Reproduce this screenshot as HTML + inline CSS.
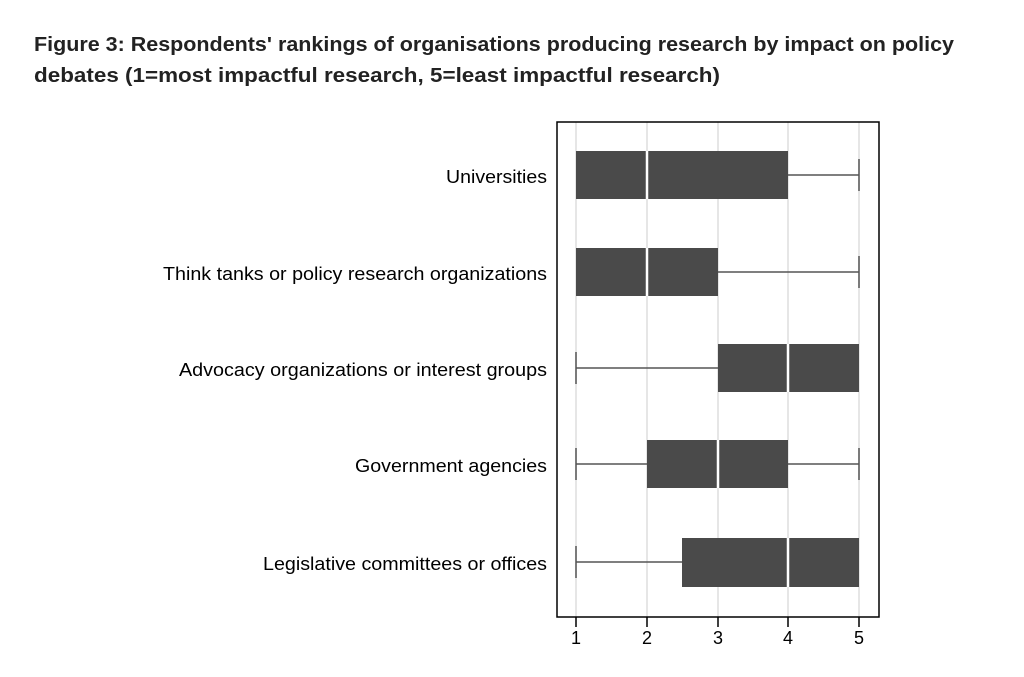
<!DOCTYPE html><html><head><style>body{margin:0;background:#fff;width:1024px;height:672px;overflow:hidden}</style></head><body>
<svg width="1024" height="672" xmlns="http://www.w3.org/2000/svg" font-family="Liberation Sans, sans-serif">
<text x="34" y="51" font-size="20" font-weight="bold" fill="#222" textLength="920" lengthAdjust="spacingAndGlyphs">Figure 3: Respondents' rankings of organisations producing research by impact on policy</text>
<text x="34" y="82" font-size="20" font-weight="bold" fill="#222" textLength="686" lengthAdjust="spacingAndGlyphs">debates (1=most impactful research, 5=least impactful research)</text>
<g stroke="#ddd" stroke-width="1.5">
<line x1="576" y1="122" x2="576" y2="617"/><line x1="647" y1="122" x2="647" y2="617"/><line x1="718" y1="122" x2="718" y2="617"/><line x1="788" y1="122" x2="788" y2="617"/><line x1="859" y1="122" x2="859" y2="617"/>
</g>
<rect x="557" y="122" width="322" height="495" fill="none" stroke="#000" stroke-width="1.5"/>
<g fill="#4a4a4a">
<rect x="576" y="151" width="212" height="48"/>
<rect x="576" y="248" width="142" height="48"/>
<rect x="718" y="344" width="141" height="48"/>
<rect x="647" y="440" width="141" height="48"/>
<rect x="682" y="538" width="177" height="49"/>
</g>
<g stroke="#fff" stroke-width="2.5">
<line x1="647" y1="151" x2="647" y2="199"/><line x1="647" y1="248" x2="647" y2="296"/><line x1="788" y1="344" x2="788" y2="392"/><line x1="718" y1="440" x2="718" y2="488"/><line x1="788" y1="538" x2="788" y2="587"/>
</g>
<g stroke="#555" stroke-width="1.5">
<line x1="788" y1="175" x2="859" y2="175"/><line x1="859" y1="159" x2="859" y2="191"/>
<line x1="718" y1="272" x2="859" y2="272"/><line x1="859" y1="256" x2="859" y2="288"/>
<line x1="576" y1="368" x2="718" y2="368"/><line x1="576" y1="352" x2="576" y2="384"/>
<line x1="576" y1="464" x2="647" y2="464"/><line x1="576" y1="448" x2="576" y2="480"/>
<line x1="788" y1="464" x2="859" y2="464"/><line x1="859" y1="448" x2="859" y2="480"/>
<line x1="576" y1="562" x2="682" y2="562"/><line x1="576" y1="546" x2="576" y2="578"/>
</g>
<g stroke="#000" stroke-width="1.5">
<line x1="576" y1="617" x2="576" y2="627"/><line x1="647" y1="617" x2="647" y2="627"/><line x1="718" y1="617" x2="718" y2="627"/><line x1="788" y1="617" x2="788" y2="627"/><line x1="859" y1="617" x2="859" y2="627"/>
</g>
<g font-size="18" text-anchor="middle" fill="#000">
<text x="576" y="644">1</text><text x="647" y="644">2</text><text x="718" y="644">3</text><text x="788" y="644">4</text><text x="859" y="644">5</text>
</g>
<g font-size="18" text-anchor="end" fill="#000" lengthAdjust="spacingAndGlyphs">
<text x="547" y="183" textLength="101" lengthAdjust="spacingAndGlyphs">Universities</text>
<text x="547" y="280" textLength="384" lengthAdjust="spacingAndGlyphs">Think tanks or policy research organizations</text>
<text x="547" y="376" textLength="368" lengthAdjust="spacingAndGlyphs">Advocacy organizations or interest groups</text>
<text x="547" y="472" textLength="192" lengthAdjust="spacingAndGlyphs">Government agencies</text>
<text x="547" y="570" textLength="284" lengthAdjust="spacingAndGlyphs">Legislative committees or offices</text>
</g>
</svg></body></html>
